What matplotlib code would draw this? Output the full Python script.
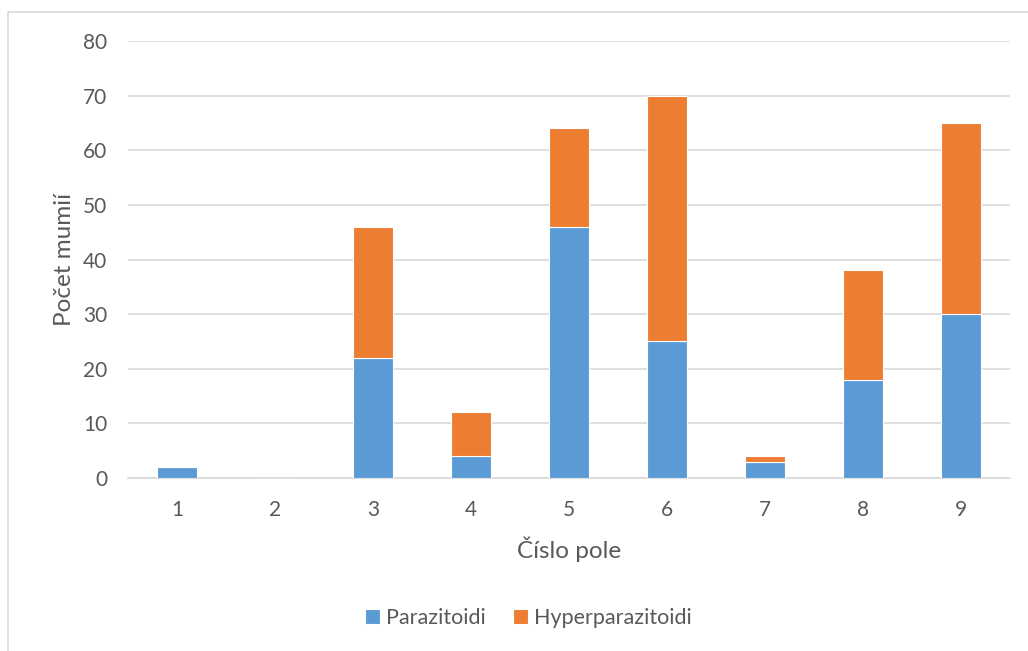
import matplotlib
matplotlib.use("Agg")
import matplotlib.pyplot as plt
from matplotlib.patches import Rectangle
import numpy as np

fields = ["1", "2", "3", "4", "5", "6", "7", "8", "9"]
parazitoidi = [2, 0, 22, 4, 46, 25, 3, 18, 30]
hyperparazitoidi = [0, 0, 24, 8, 18, 45, 1, 20, 35]
yticks = [0, 10, 20, 30, 40, 50, 60, 70, 80]

text_color = "#595959"
grid_color = "#D9D9D9"
blue = "#5B9BD5"
orange = "#ED7D31"

plt.rcParams["font.family"] = ["Lato", "DejaVu Sans"]

fig = plt.figure(figsize=(10.28, 6.51), dpi=100)
ax = fig.add_axes([0.1245, 0.2657, 0.858, 0.6713])

# outer chart frame
fig.patches.append(Rectangle((8 / 1028, -0.05), 1.1, 1 - 12 / 651 + 0.05,
                             transform=fig.transFigure, fill=False,
                             edgecolor=grid_color, linewidth=1.2))

x = np.arange(len(fields))
ax.bar(x, parazitoidi, width=0.4, color=blue, edgecolor="white",
       linewidth=0.8, label="Parazitoidi", zorder=3)
ax.bar(x, hyperparazitoidi, width=0.4, bottom=parazitoidi, color=orange,
       edgecolor="white", linewidth=0.8, label="Hyperparazitoidi", zorder=3)

ax.set_xlim(-0.5, len(fields) - 0.5)
ax.set_ylim(0, 80)
ax.set_yticks(yticks)
ax.set_xticks(x)
ax.set_xticklabels(fields)
ax.yaxis.grid(True, color=grid_color, linewidth=1.2, zorder=0)
ax.set_axisbelow(True)
for s in ["top", "right", "left"]:
    ax.spines[s].set_visible(False)
ax.spines["bottom"].set_color(grid_color)
ax.spines["bottom"].set_linewidth(1.2)
ax.tick_params(axis="both", length=0, labelsize=15, colors=text_color)
ax.tick_params(axis="y", pad=15)
ax.tick_params(axis="x", pad=16)

ax.set_xlabel("Číslo pole", fontsize=17.5, color=text_color, labelpad=12)
ax.set_ylabel("Počet mumií", fontsize=17.5, color=text_color, labelpad=6)

handles, labels = ax.get_legend_handles_labels()
leg = fig.legend(handles, labels, loc="center", bbox_to_anchor=(0.514, 0.05),
                 ncol=2, frameon=False, fontsize=15.5, handlelength=0.7,
                 handleheight=0.7, columnspacing=1.25, handletextpad=0.3)
for t in leg.get_texts():
    t.set_color(text_color)

fig.savefig("out.png", dpi=100)
